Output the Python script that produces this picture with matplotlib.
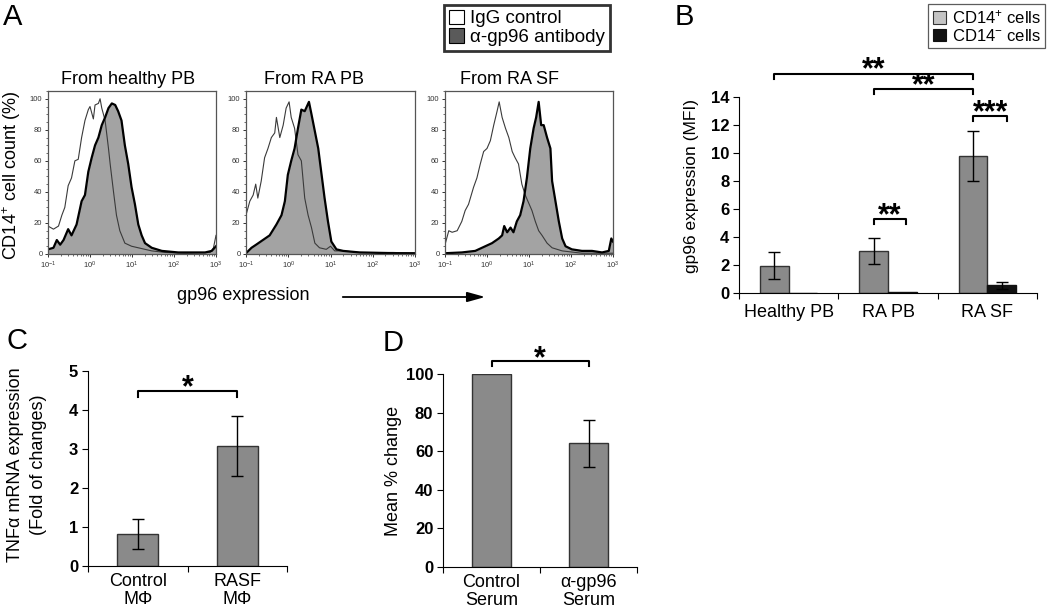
import matplotlib
matplotlib.use('Agg')
import matplotlib.pyplot as plt
import numpy as np
from matplotlib.patches import Patch, FancyArrowPatch
from matplotlib.ticker import LogLocator, MultipleLocator, NullFormatter, FixedLocator

plt.rcParams['font.family'] = ['Liberation Sans', 'DejaVu Sans']
plt.rcParams['mathtext.fontset'] = 'custom'
plt.rcParams['mathtext.rm'] = 'Liberation Sans'
plt.rcParams['mathtext.it'] = 'Liberation Sans:italic'
plt.rcParams['mathtext.bf'] = 'Liberation Sans:bold'

# ---------------- data ----------------
hist_titles = ['From healthy PB', 'From RA PB', 'From RA SF']
hist_xticklabels = ['$10^{-1}$', '$10^{0}$', '$10^{1}$', '$10^{2}$', '$10^{3}$']

# panel A: histograms (log10 fluorescence, % of max)
igg_healthy_logx = [-1.00, -0.87, -0.75, -0.67, -0.60, -0.52, -0.44, -0.36, -0.28, -0.20,
                    -0.12, -0.04, 0.00, 0.08, 0.12, 0.20, 0.24, 0.28, 0.36, 0.44,
                    0.48, 0.56, 0.63, 0.71, 0.83, 0.99, 1.23, 1.47, 1.79, 2.26,
                    2.86, 2.94, 3.00]
igg_healthy_y = [18, 16, 18, 25, 30, 44, 49, 60, 61, 75,
                 86, 93, 95, 87, 96, 97, 100, 94, 86, 68,
                 58, 40, 25, 15, 7, 5, 3.5, 2, 1, 0.5,
                 1, 4, 12]
ab_healthy_logx = [-1.00, -0.87, -0.79, -0.71, -0.63, -0.52, -0.44, -0.32, -0.20, -0.12,
                   -0.04, 0.04, 0.12, 0.20, 0.28, 0.36, 0.44, 0.52, 0.60, 0.67,
                   0.75, 0.83, 0.91, 0.99, 1.07, 1.15, 1.23, 1.31, 1.47, 1.71,
                   2.10, 2.74, 2.90, 3.00]
ab_healthy_y = [3, 4, 9, 6, 9, 16, 12, 19, 34, 38,
                53, 62, 70, 75, 83, 88, 94, 97, 96, 92,
                86, 70, 58, 43, 32, 19, 12, 7, 4, 2,
                1, 1, 2, 5]

igg_rapb_logx = [-1.00, -0.91, -0.83, -0.77, -0.72, -0.64, -0.56, -0.48, -0.40, -0.32,
                 -0.28, -0.20, -0.12, -0.05, 0.02, 0.07, 0.15, 0.23, 0.31, 0.39,
                 0.47, 0.55, 0.63, 0.74, 0.90, 1.00, 1.10, 1.30, 1.69, 2.48,
                 3.00]
igg_rapb_y = [25, 34, 38, 45, 36, 47, 62, 68, 75, 78,
              88, 75, 83, 94, 98, 88, 81, 64, 60, 36,
              25, 17, 7, 4, 3, 5, 2, 2, 1, 1,
              0.5]
ab_rapb_logx = [-1.00, -0.87, -0.76, -0.60, -0.44, -0.28, -0.16, -0.08, -0.01, 0.07,
                0.15, 0.23, 0.31, 0.39, 0.44, 0.49, 0.55, 0.63, 0.71, 0.78,
                0.86, 0.94, 1.02, 1.14, 1.30, 1.69, 2.48, 3.00]
ab_rapb_y = [0.5, 4, 6, 9, 12, 19, 25, 34, 51, 60,
             68, 81, 93, 92, 95, 98, 90, 79, 68, 53,
             36, 21, 8, 3, 2, 1, 0.5, 0.5]

igg_rasf_logx = [-1.00, -0.91, -0.83, -0.71, -0.60, -0.52, -0.44, -0.32, -0.24, -0.16,
                 -0.08, 0.00, 0.08, 0.16, 0.24, 0.29, 0.36, 0.44, 0.52, 0.60,
                 0.67, 0.75, 0.83, 0.91, 0.99, 1.07, 1.15, 1.23, 1.31, 1.43,
                 1.55, 1.79, 2.26, 3.00]
igg_rasf_y = [6, 15, 14, 15, 21, 28, 32, 43, 49, 58,
              66, 68, 73, 83, 92, 98, 88, 81, 75, 66,
              62, 58, 45, 38, 33, 28, 21, 15, 12, 7,
              4, 2, 0.5, 0.5]
ab_rasf_logx = [-1.00, -0.60, -0.28, -0.04, 0.12, 0.28, 0.36, 0.41, 0.48, 0.56,
                0.63, 0.71, 0.79, 0.87, 0.95, 1.03, 1.11, 1.17, 1.23, 1.29,
                1.35, 1.43, 1.51, 1.55, 1.63, 1.71, 1.79, 1.87, 2.02, 2.26,
                2.50, 2.74, 2.90, 2.96, 3.00]
ab_rasf_y = [0.5, 1, 2, 5, 7, 10, 12, 18, 14, 17,
             14, 21, 25, 34, 49, 68, 81, 88, 98, 83,
             83, 75, 68, 47, 34, 21, 10, 5, 3, 2,
             2, 1, 2, 10, 8]

# panel B
b_categories = ['Healthy PB', 'RA PB', 'RA SF']
b_cd14pos = [1.95, 3.0, 9.8]
b_cd14pos_err = [0.95, 0.9, 1.8]
b_cd14neg = [0.0, 0.05, 0.55]
b_cd14neg_err = [0.0, 0.0, 0.25]

# panel C
c_categories = ['Control\nMΦ', 'RASF\nMΦ']
c_values = [0.82, 3.07]
c_err = [0.39, 0.77]

# panel D
d_categories = ['Control\nSerum', 'α-gp96\nSerum']
d_values = [100, 64]
d_err = [0, 12]

# ---------------- layout helpers ----------------
W, H = 1050, 609
fig = plt.figure(figsize=(W / 100, H / 100), dpi=100)


def rect(l, t, r, b):
    return [l / W, 1 - b / H, (r - l) / W, (b - t) / H]


def ftext(x, y, s, **kw):
    return fig.text(x / W, 1 - y / H, s, ha='center', va='center', **kw)


BAR_GRAY = '#8a8a8a'
FILL_GRAY = '#a3a3a3'

# ---------------- panel A ----------------
hist_rects = [rect(48, 91, 216, 254), rect(246, 91, 415, 254), rect(445, 91, 613, 254)]
hist_data = [(igg_healthy_logx, igg_healthy_y, ab_healthy_logx, ab_healthy_y),
             (igg_rapb_logx, igg_rapb_y, ab_rapb_logx, ab_rapb_y),
             (igg_rasf_logx, igg_rasf_y, ab_rasf_logx, ab_rasf_y)]
title_x = [128, 314, 509]
hist_axes = []
for i, (r, (gx, gy, ax_, ay)) in enumerate(zip(hist_rects, hist_data)):
    ax = fig.add_axes(r)
    gx = 10 ** np.array(gx)
    ax_x = 10 ** np.array(ax_)
    ax.fill_between(ax_x, 0, ay, color=FILL_GRAY, lw=0)
    ax.plot(gx, gy, color='#3a3a3a', lw=0.8)
    ax.plot(ax_x, ay, color='black', lw=1.6)
    ax.set_xscale('log')
    ax.set_xlim(0.1, 1000)
    ax.set_ylim(0, 105)
    ax.xaxis.set_major_locator(FixedLocator([0.1, 1, 10, 100, 1000]))
    ax.set_xticklabels(hist_xticklabels)
    ax.xaxis.set_minor_locator(LogLocator(base=10, subs=np.arange(2, 10)))
    ax.xaxis.set_minor_formatter(NullFormatter())
    ax.yaxis.set_major_locator(MultipleLocator(20))
    ax.yaxis.set_minor_locator(MultipleLocator(5))
    ax.tick_params(axis='both', which='major', labelsize=5.5, length=2.5, width=0.7,
                   pad=1.5, colors='#333333')
    ax.tick_params(axis='both', which='minor', length=1.3, width=0.5, colors='#333333')
    for s in ax.spines.values():
        s.set_color('#555555')
        s.set_linewidth(0.9)
    ftext(title_x[i], 79, hist_titles[i], fontsize=13)
    hist_axes.append(ax)

ftext(12, 175, 'CD14$^{+}$ cell count (%)', fontsize=13, rotation=90)

ftext(243, 295, 'gp96 expression', fontsize=13)
fig.add_artist(FancyArrowPatch((340 / W, 1 - 297 / H), (488 / W, 1 - 297 / H),
                               transform=fig.transFigure, arrowstyle='-|>,head_length=0.9,head_width=0.25',
                               mutation_scale=12, lw=1.3, color='black'))

legA = fig.legend(handles=[Patch(fc='white', ec='black', lw=0.8),
                           Patch(fc='#5a5a5a', ec='black', lw=0.8)],
                  labels=['IgG control', 'α-gp96 antibody'],
                  loc='upper left', bbox_to_anchor=(444 / W, 1 - 5 / H),
                  frameon=True, fancybox=False, edgecolor='black', fontsize=13.5,
                  handlelength=0.8, handleheight=0.8, handletextpad=0.35,
                  borderpad=0.25, labelspacing=0.05, borderaxespad=0)
legA.get_frame().set_linewidth(2)

ftext(13, 17, 'A', fontsize=21)

# ---------------- panel B ----------------
axB = fig.add_axes(rect(739, 97, 1037, 293))
xb = np.arange(len(b_categories))
bw = 0.29
barsP = axB.bar(xb - bw / 2, b_cd14pos, bw, color=BAR_GRAY, edgecolor='#333333', lw=1)
barsN = axB.bar(xb + bw / 2, b_cd14neg, bw, color='#111111', edgecolor='#111111', lw=1)
for i in range(len(xb)):
    if b_cd14pos_err[i] > 0:
        axB.errorbar(xb[i] - bw / 2, b_cd14pos[i], yerr=b_cd14pos_err[i], fmt='none',
                     ecolor='black', elinewidth=1, capsize=4.5, capthick=1)
    if b_cd14neg_err[i] > 0:
        axB.errorbar(xb[i] + bw / 2, b_cd14neg[i], yerr=b_cd14neg_err[i], fmt='none',
                     ecolor='black', elinewidth=1, capsize=4.5, capthick=1)
axB.set_xlim(-0.5, 2.5)
axB.set_ylim(0, 14)
axB.spines['top'].set_visible(False)
axB.spines['right'].set_visible(False)
axB.xaxis.set_major_locator(FixedLocator([-0.5, 0.5, 1.5, 2.5]))
axB.xaxis.set_minor_locator(FixedLocator(xb))
axB.set_xticklabels([], minor=False)
axB.set_xticklabels(b_categories, minor=True, fontsize=13)
axB.tick_params(axis='x', which='minor', length=0, pad=8)
axB.tick_params(axis='x', which='major', length=4, direction='out')
axB.yaxis.set_major_locator(MultipleLocator(2))
axB.tick_params(axis='y', labelsize=12, length=4, pad=3)
for lab in axB.get_yticklabels():
    lab.set_fontweight('bold')
ftext(692, 186, 'gp96 expression (MFI)', fontsize=12.5, rotation=90)


def bracket(ax, x1, x2, y, h, text, ty, fs=22):
    ax.plot([x1, x1, x2, x2], [y - h, y, y, y - h], color='black', lw=1.5, clip_on=False)
    ax.text((x1 + x2) / 2, y + ty, text, ha='center', va='baseline', fontsize=fs,
            fontweight='bold', clip_on=False)


bracket(axB, -0.145, 1.855, 15.64, 0.35, '**', -0.3)
bracket(axB, 0.855, 1.855, 14.57, 0.35, '**', -0.4)
bracket(axB, 1.855, 2.2, 12.64, 0.35, '***', -0.35)
bracket(axB, 0.855, 1.18, 5.29, 0.35, '**', -0.4)

fig.legend(handles=[Patch(fc='#c4c4c4', ec='#333333', lw=0.8),
                    Patch(fc='#111111', ec='#111111', lw=0.8)],
           labels=['CD14$^{+}$ cells', 'CD14$^{-}$ cells'],
           loc='upper right', bbox_to_anchor=(1045 / W, 1 - 4 / H),
           frameon=True, fancybox=False, edgecolor='#333333', fontsize=12,
           handlelength=0.8, handleheight=0.8, handletextpad=0.35,
           borderpad=0.25, labelspacing=0.1, borderaxespad=0).get_frame().set_linewidth(0.9)

ftext(684, 17, 'B', fontsize=21)

# ---------------- panel C ----------------
axC = fig.add_axes(rect(88, 371, 287, 566))
xc = np.arange(len(c_categories))
axC.bar(xc, c_values, 0.41, color=BAR_GRAY, edgecolor='#333333', lw=1,
        yerr=c_err, error_kw=dict(ecolor='black', elinewidth=1, capsize=4.5, capthick=1))
axC.set_xlim(-0.5, 1.5)
axC.set_ylim(0, 5)
axC.spines['top'].set_visible(False)
axC.spines['right'].set_visible(False)
axC.xaxis.set_major_locator(FixedLocator([-0.5, 0.5, 1.5]))
axC.xaxis.set_minor_locator(FixedLocator(xc))
axC.set_xticklabels([], minor=False)
axC.set_xticklabels(c_categories, minor=True, fontsize=13, linespacing=1.1)
axC.tick_params(axis='x', which='minor', length=0, pad=5)
axC.tick_params(axis='x', which='major', length=4)
axC.yaxis.set_major_locator(MultipleLocator(1))
axC.tick_params(axis='y', labelsize=12, length=4, pad=3)
for lab in axC.get_yticklabels():
    lab.set_fontweight('bold')
ftext(27, 465, 'TNFα mRNA expression\n(Fold of changes)', fontsize=13, rotation=90,
      linespacing=1.4)
bracket(axC, 0, 1, 4.49, 0.15, '*', -0.15)
ftext(17, 341, 'C', fontsize=21)

# ---------------- panel D ----------------
axD = fig.add_axes(rect(443, 374, 637, 567))
xd = np.arange(len(d_categories))
axD.bar(xd, d_values, 0.4, color=BAR_GRAY, edgecolor='#333333', lw=1)
for i in range(len(xd)):
    if d_err[i] > 0:
        axD.errorbar(xd[i], d_values[i], yerr=d_err[i], fmt='none', ecolor='black',
                     elinewidth=1, capsize=4.5, capthick=1)
axD.set_xlim(-0.5, 1.5)
axD.set_ylim(0, 100)
axD.spines['top'].set_visible(False)
axD.spines['right'].set_visible(False)
axD.xaxis.set_major_locator(FixedLocator([-0.5, 0.5, 1.5]))
axD.xaxis.set_minor_locator(FixedLocator(xd))
axD.set_xticklabels([], minor=False)
axD.set_xticklabels(d_categories, minor=True, fontsize=13, linespacing=1.1)
axD.tick_params(axis='x', which='minor', length=0, pad=5)
axD.tick_params(axis='x', which='major', length=4)
axD.yaxis.set_major_locator(MultipleLocator(20))
axD.tick_params(axis='y', labelsize=12, length=4, pad=3)
for lab in axD.get_yticklabels():
    lab.set_fontweight('bold')
ftext(393, 471, 'Mean % change', fontsize=13, rotation=90)
bracket(axD, 0, 1, 106.7, 2.6, '*', -3.0)
ftext(393, 343, 'D', fontsize=21)

fig.savefig('out.png', dpi=100)
